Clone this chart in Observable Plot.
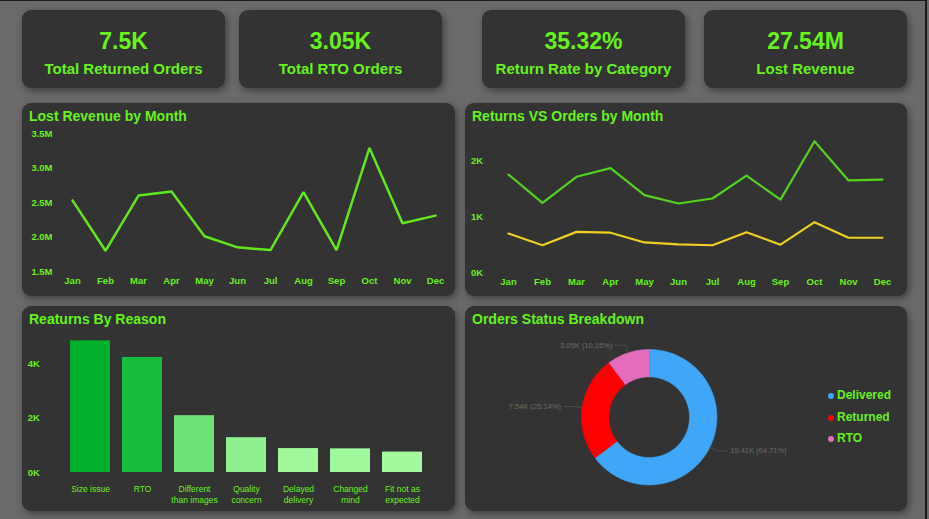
<!DOCTYPE html>
<html><head><meta charset="utf-8">
<script src="https://cdn.jsdelivr.net/npm/d3@7"></script>
<script src="https://cdn.jsdelivr.net/npm/@observablehq/plot@0.6"></script>
<style>
html,body{margin:0;padding:0;}
body{width:929px;height:519px;background:#6a6a6a;position:relative;overflow:hidden;font-family:"Liberation Sans",Arial,sans-serif;}
.edge-top{position:absolute;left:0;top:0;width:927px;height:1px;background:#1c1c1c;}
.edge-right{position:absolute;left:925px;top:0;width:2px;height:519px;background:#1c1c1c;}
.card,.panel{position:absolute;background:#333333;border-radius:9px;box-shadow:2px 3px 7px rgba(30,30,30,0.55);}
.kpi-value,.kpi-label{position:absolute;left:0;right:0;text-align:center;color:#66f21c;font-weight:700;white-space:nowrap;}
.kpi-value{font-size:23px;line-height:23px;top:20px;}
.kpi-label{font-size:15px;line-height:15px;top:51px;}
.title{position:absolute;left:7px;top:6px;font-size:14px;line-height:14px;font-weight:700;color:#66f21c;white-space:nowrap;}
.chart{position:absolute;left:0;top:24px;}
.legend{position:absolute;left:366px;top:83px;}
.legend div{position:relative;height:21.6px;font-size:12px;line-height:12px;font-weight:700;color:#66f21c;padding-left:6px;}
.legend span{position:absolute;left:-3px;top:4px;width:6px;height:6px;border-radius:50%;}
</style></head>
<body>
<div class="edge-top"></div><div class="edge-right"></div>
<div id="root"></div>
<script>
// ---------------- data ----------------
const kpiValues = ["7.5K", "3.05K", "35.32%", "27.54M"];
const kpiLabels = ["Total Returned Orders", "Total RTO Orders", "Return Rate by Category", "Lost Revenue"];

const months = ["Jan","Feb","Mar","Apr","May","Jun","Jul","Aug","Sep","Oct","Nov","Dec"];
const lostRevenue = [2.53e6, 1.80e6, 2.60e6, 2.66e6, 2.01e6, 1.85e6, 1.81e6, 2.65e6, 1.81e6, 3.29e6, 2.20e6, 2.31e6];
const revenueTicks = [1.5e6, 2.0e6, 2.5e6, 3.0e6, 3.5e6];

const ordersByMonth  = [1760, 1250, 1720, 1875, 1390, 1240, 1330, 1740, 1310, 2360, 1655, 1670];
const returnsByMonth = [700, 490, 730, 715, 540, 505, 490, 725, 500, 905, 625, 625];
const countTicks2 = [0, 1000, 2000];

const reasons = ["Size issue", "RTO", "Different than images", "Quality concern", "Delayed delivery", "Changed mind", "Fit not as expected"];
const reasonTickLabels = ["Size issue", "RTO", "Different\nthan images", "Quality\nconcern", "Delayed\ndelivery", "Changed\nmind", "Fit not as\nexpected"];
const reasonCounts = [4840, 4230, 2090, 1280, 880, 870, 750];
const countTicks3 = [0, 2000, 4000];

const statusNames = ["Delivered", "Returned", "RTO"];
const statusCounts = [19410, 7540, 3050];
const statusLabels = ["19.41K (64.71%)", "7.54K (25.14%)", "3.05K (10.15%)"];

// ---------------- styles ----------------
const GREEN = "#66f21c";
const LINE_GREEN = "#5fe81c";
const ORDERS_GREEN = "#52d41f";
const RETURNS_YELLOW = "#efcf1f";
const STATUS_COLORS = ["#40a6f8", "#ff0000", "#e36cbd"];
const FONT = '"Liberation Sans", Arial, sans-serif';

const root = document.getElementById("root");
function box(cls, left, top, w, h) {
  const d = document.createElement("div");
  d.className = cls;
  Object.assign(d.style, {left: left + "px", top: top + "px", width: w + "px", height: h + "px"});
  root.appendChild(d);
  return d;
}

// KPI cards
const cardLefts = [22, 239, 482, 704];
kpiValues.forEach((v, i) => {
  const c = box("card", cardLefts[i], 10, 203, 78);
  const a = document.createElement("div"); a.className = "kpi-value"; a.textContent = v; c.appendChild(a);
  const b = document.createElement("div"); b.className = "kpi-label"; b.textContent = kpiLabels[i]; c.appendChild(b);
});

function panel(left, top, w, h, title) {
  const p = box("panel", left, top, w, h);
  const t = document.createElement("div"); t.className = "title"; t.textContent = title; p.appendChild(t);
  return p;
}
function place(p, svg) { svg.classList.add("chart"); p.appendChild(svg); }

const baseStyle = {background: "transparent", fontFamily: FONT, fontSize: "9.5px", fontWeight: "bold", color: GREEN, overflow: "visible"};

// Panel 1: Lost Revenue by Month
const p1 = panel(22, 103, 433, 193, "Lost Revenue by Month");
const revData = months.map((m, i) => ({month: m, value: lostRevenue[i]}));
place(p1, Plot.plot({
  width: 433, height: 169,
  marginTop: 6, marginBottom: 25, marginLeft: 49, marginRight: 20,
  style: baseStyle,
  x: {type: "point", domain: months, padding: 0},
  y: {domain: [1.5e6, 3.5e6]},
  marks: [
    Plot.axisY({ticks: revenueTicks, tickFormat: d => (d / 1e6).toFixed(1) + "M", tickSize: 0, tickPadding: 19, label: null, color: GREEN}),
    Plot.axisX({tickSize: 0, tickPadding: 5.5, label: null, color: GREEN}),
    Plot.line(revData, {x: "month", y: "value", stroke: LINE_GREEN, strokeWidth: 2.5, strokeLinejoin: "miter"})
  ]
}));

// Panel 2: Returns VS Orders by Month
const p2 = panel(465, 103, 442, 193, "Returns VS Orders by Month");
const roData = months.flatMap((m, i) => [
  {month: m, series: "Orders", value: ordersByMonth[i]},
  {month: m, series: "Returns", value: returnsByMonth[i]}
]);
place(p2, Plot.plot({
  width: 442, height: 169,
  marginTop: 5.9, marginBottom: 24, marginLeft: 38.3, marginRight: 20.7,
  style: baseStyle,
  x: {type: "point", domain: months, padding: 0},
  y: {domain: [0, 2500]},
  color: {domain: ["Orders", "Returns"], range: [ORDERS_GREEN, RETURNS_YELLOW]},
  marks: [
    Plot.axisY({ticks: countTicks2, tickFormat: d => d / 1000 + "K", tickSize: 0, tickPadding: 20.6, label: null, color: GREEN}),
    Plot.axisX({tickSize: 0, tickPadding: 5.6, label: null, color: GREEN}),
    Plot.line(roData, {x: "month", y: "value", z: "series", stroke: "series", strokeWidth: 2.2})
  ]
}));

// Panel 3: Reaturns By Reason
const p3 = panel(22, 306, 433, 205, "Reaturns By Reason");
const reasonData = reasons.map((r, i) => ({reason: r, count: reasonCounts[i]}));
const tickLabelOf = new Map(reasons.map((r, i) => [r, reasonTickLabels[i]]));
place(p3, Plot.plot({
  width: 433, height: 181,
  marginTop: 6, marginBottom: 39, marginLeft: 39.4, marginRight: 23.1,
  style: baseStyle,
  x: {domain: reasons, paddingInner: 0.224, paddingOuter: 0.112},
  y: {domain: [0, 5000]},
  color: {type: "linear", domain: [d3.min(reasonCounts), d3.max(reasonCounts)], range: ["#a5fa9f", "#00b02b"]},
  marks: [
    Plot.barY(reasonData, {x: "reason", y: "count", fill: "count"}),
    Plot.axisY({ticks: countTicks3, tickFormat: d => d / 1000 + "K", tickSize: 0, tickPadding: 22, label: null, color: GREEN}),
    Plot.axisX({tickSize: 0, tickPadding: 10.5, label: null, color: GREEN, tickFormat: d => tickLabelOf.get(d), fontWeight: "normal", fontSize: 8.5, lineHeight: 1.41})
  ]
}));

// Panel 4: Orders Status Breakdown (donut)
const p4 = panel(465, 306, 442, 205, "Orders Status Breakdown");
const arcs = d3.pie().sort(null).startAngle(0).endAngle(2 * Math.PI)(statusCounts);
const R_IN = 40.3 / 67.7;
const sliceMarks = arcs.map((a, i) => {
  const n = Math.max(2, Math.ceil((a.endAngle - a.startAngle) / 0.01));
  const pts = [];
  for (let k = 0; k <= n; k++) { const t = a.startAngle + (a.endAngle - a.startAngle) * k / n; pts.push({x: Math.sin(t), y: Math.cos(t)}); }
  for (let k = n; k >= 0; k--) { const t = a.startAngle + (a.endAngle - a.startAngle) * k / n; pts.push({x: R_IN * Math.sin(t), y: R_IN * Math.cos(t)}); }
  return Plot.line(pts, {x: "x", y: "y", fill: STATUS_COLORS[i], stroke: STATUS_COLORS[i], strokeWidth: 0.6});
});
const leaders = [], labelPts = [];
arcs.forEach((a, i) => {
  const m = (a.startAngle + a.endAngle) / 2;
  const sx = Math.sin(m), sy = Math.cos(m);
  const side = sx >= 0 ? 1 : -1;
  const ex = 1.12 * sx, ey = 1.12 * sy;
  leaders.push({k: i, x: 1.0 * sx, y: 1.0 * sy}, {k: i, x: ex, y: ey}, {k: i, x: ex + side * 0.15, y: ey});
  labelPts.push({x: ex + side * 0.15, y: ey, side, text: statusLabels[i]});
});
place(p4, Plot.plot({
  width: 442, height: 181,
  marginTop: 0, marginBottom: 0, marginLeft: 0, marginRight: 0,
  style: baseStyle,
  x: {domain: [-1, 1], range: [116, 251.4], axis: null},
  y: {domain: [-1, 1], range: [154.4, 19], axis: null},
  marks: [
    ...sliceMarks,
    Plot.line(leaders, {x: "x", y: "y", z: "k", stroke: "#505050", strokeWidth: 0.8}),
    Plot.text(labelPts.filter(d => d.side > 0), {x: "x", y: "y", text: "text", textAnchor: "start", dx: 3, fill: "#6a6a6a", fontWeight: "normal", fontSize: 7.5}),
    Plot.text(labelPts.filter(d => d.side < 0), {x: "x", y: "y", text: "text", textAnchor: "end", dx: -3, fill: "#6a6a6a", fontWeight: "normal", fontSize: 7.5})
  ]
}));
const legend = document.createElement("div"); legend.className = "legend";
statusNames.forEach((s, i) => {
  const row = document.createElement("div");
  const dot = document.createElement("span"); dot.style.background = STATUS_COLORS[i];
  row.appendChild(dot); row.appendChild(document.createTextNode(s));
  legend.appendChild(row);
});
p4.appendChild(legend);
</script>
</body></html>
